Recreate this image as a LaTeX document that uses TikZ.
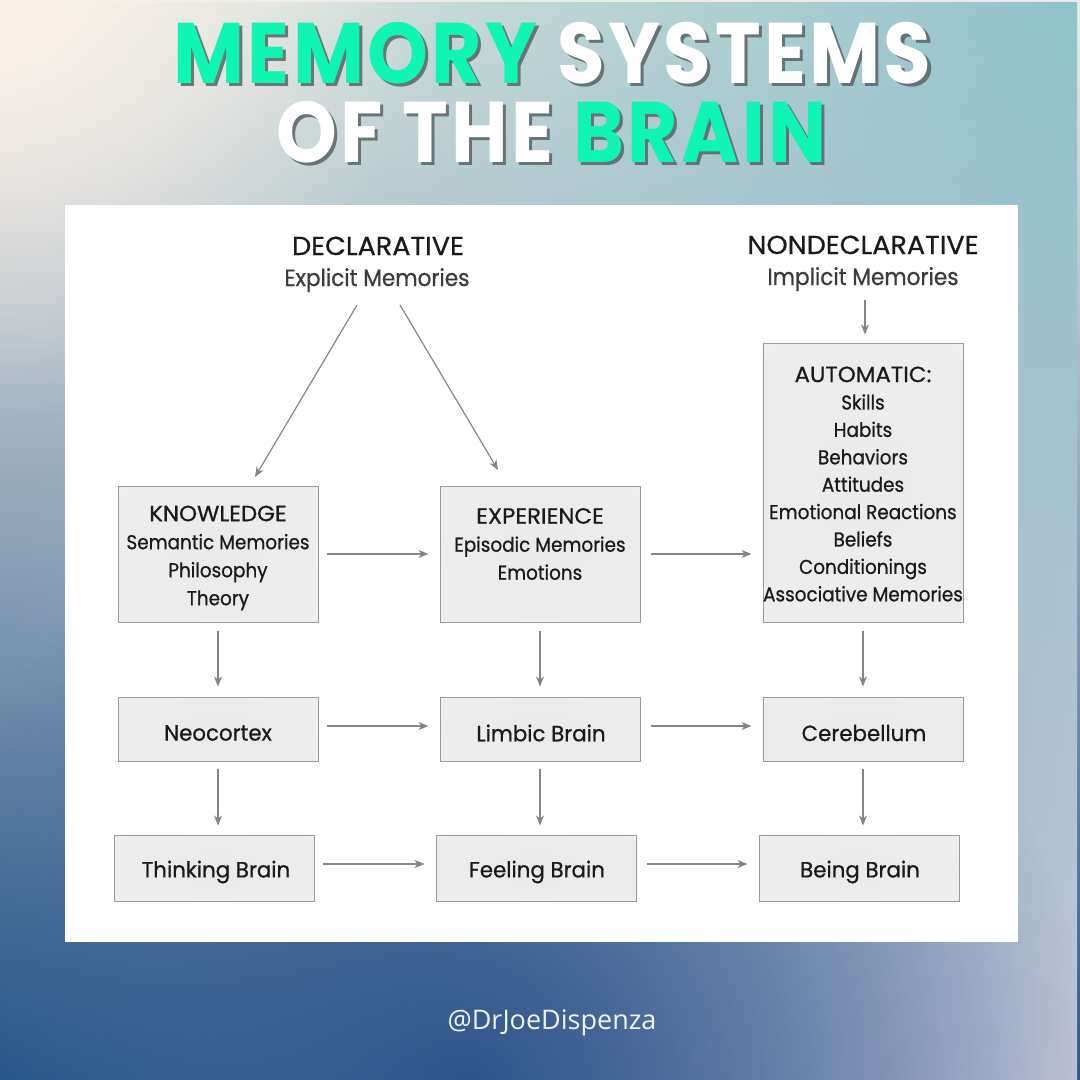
\documentclass[tikz,border=0pt]{standalone}
\usepackage{fontspec}
\usetikzlibrary{arrows.meta,fadings}
\newfontfamily\titlefont[FakeStretch=0.9, LetterSpace=4]{Poppins}
\newfontfamily\dfont[FakeStretch=0.92, FakeBold=0.7]{Poppins}
\newfontfamily\dcapfont[FakeStretch=1.04, FakeBold=0.7]{Poppins}
\newfontfamily\dbigfont[FakeStretch=0.97, FakeBold=0.7]{Poppins}
\newfontfamily\handlefont{Open Sans}
\definecolor{mint}{HTML}{0EF5B4}
\definecolor{shadowc}{HTML}{5A6466}
\definecolor{lTop}{HTML}{EFEBE4}
\definecolor{lMid}{HTML}{8CBEC3}
\definecolor{lBot}{HTML}{2A5A8C}
\definecolor{rTop}{HTML}{8FC3CA}
\definecolor{rMid}{HTML}{E8E6E3}
\definecolor{rBot}{HTML}{C2C4D8}
\definecolor{peach}{HTML}{FBF1E9}
\definecolor{deepblue}{HTML}{234C86}
\definecolor{boxline}{HTML}{999999}
\definecolor{arrc}{HTML}{858585}
\definecolor{txt}{HTML}{1A1A1A}
\definecolor{subtxt}{HTML}{3C3C3C}
\tikzfading[name=softfade, inner color=transparent!0, outer color=transparent!100]
\tikzfading[name=fadeR, left color=transparent!100, right color=transparent!0]
\pgfdeclareradialshading{boxglow}{\pgfpoint{0bp}{0bp}}{%
  color(0bp)=(black!8); color(32bp)=(black!7); color(42bp)=(black!4);
  color(48bp)=(black!1); color(52bp)=(white); color(80bp)=(white)}
\newcommand{\capline}[1]{{\dcapfont\fontsize{22}{28}\selectfont #1}}
\tikzset{
  box/.style={draw=boxline, line width=1pt, shading=boxglow, minimum width=200pt, inner sep=0pt},
  boxtext/.style={align=center, text=txt, inner sep=0pt, font=\dfont\fontsize{20}{28}\selectfont},
  bigtext/.style={text=txt, inner sep=0pt, font=\dbigfont\fontsize{22}{22}\selectfont},
  head/.style={anchor=base, text=txt, font=\dcapfont\fontsize{26}{26}\selectfont},
  subhead/.style={anchor=base, text=subtxt, font=\dfont\fontsize{23.5}{23.5}\selectfont},
  arr/.style={draw=arrc, line width=1.2pt, -{Stealth[length=10pt,width=8pt,inset=3pt]}},
  ttl/.style={anchor=base, font=\titlefont\bfseries\fontsize{86}{86}\selectfont},
}
\begin{document}
\begin{tikzpicture}[x=1pt,y=-1pt]
\useasboundingbox (0,0) rectangle (1080,1080);
% background
\begin{scope}
\clip (0,0) rectangle (1080,1080);
\shade[top color=lTop, middle color=lMid, bottom color=lBot] (0,0) rectangle (1080,1080);
\shade[top color=rTop, middle color=rMid, bottom color=rBot, path fading=fadeR] (0,0) rectangle (1080,1080);
\fill[deepblue, path fading=softfade, opacity=0.85] (470,1090) circle (620);
\fill[peach, path fading=softfade] (0,0) circle (420);
\end{scope}
% title
\node[ttl, text=shadowc, opacity=0.85] at (555.5,86.5) {MEMORY SYSTEMS};
\node[ttl] (t1) at (552.5,83) {\textcolor{mint}{MEMORY} \textcolor{white}{SYSTEMS}};
\node[ttl, text=shadowc, opacity=0.85] at (554.5,165.5) {OF THE BRAIN};
\node[ttl] (t2) at (551.5,162) {\textcolor{white}{OF THE} \textcolor{mint}{BRAIN}};
% panel
\fill[white] (65,205) rectangle (1018,942);
% headings
\node[head] (decl) at (378,255) {DECLARATIVE};
\node[subhead] (expl) at (377,286) {Explicit Memories};
\node[head] (ndecl) at (863,254) {NONDECLARATIVE};
\node[subhead] (impl) at (863,285) {Implicit Memories};
% boxes
\node[box, minimum height=136pt] (know) at (218,554) {};
\node[box, minimum height=136pt] (exp) at (540,554) {};
\node[box, minimum height=279pt] (auto) at (863,482.5) {};
\node[box, minimum height=64pt] (neo) at (218,729) {};
\node[box, minimum height=64pt] (limb) at (540,729) {};
\node[box, minimum height=64pt] (cere) at (863,729) {};
\node[box, minimum height=66pt] (think) at (214,868) {};
\node[box, minimum height=66pt] (feel) at (536,868) {};
\node[box, minimum height=66pt] (being) at (859,868) {};
% box texts
\node[boxtext] (know-t) at (218,558) {\capline{KNOWLEDGE}\\Semantic Memories\\Philosophy\\Theory};
\node[boxtext] (exp-t) at (540,544) {\capline{EXPERIENCE}\\Episodic Memories\\Emotions};
\node[boxtext, font=\dfont\fontsize{20}{27.4}\selectfont] (auto-t) at (863,484) {\capline{AUTOMATIC:}\\Skills\\Habits\\Behaviors\\Attitudes\\Emotional Reactions\\Beliefs\\Conditionings\\Associative Memories};
\node[bigtext] (neo-t) at (218,733) {Neocortex};
\node[bigtext] (limb-t) at (541,733) {Limbic Brain};
\node[bigtext] (cere-t) at (864,733) {Cerebellum};
\node[bigtext] (think-t) at (216,872) {Thinking Brain};
\node[bigtext] (feel-t) at (537,872) {Feeling Brain};
\node[bigtext] (being-t) at (860,872) {Being Brain};
% connectors
\coordinate (dl) at (357,305);
\coordinate (dr) at (400,305);
\coordinate (ndc) at (865,300);
\coordinate (klt) at (255,477);
\coordinate (ert) at (498,470);
\draw[arr] (dl) -- (klt);
\draw[arr] (dr) -- (ert);
\draw[arr, shorten >=8pt] (ndc) -- (ndc |- auto.north);
\draw[arr, shorten <=8pt, shorten >=11pt] (know.east) -- (exp.west);
\draw[arr, shorten <=10pt, shorten >=11pt] (exp.east) -- (auto.west |- exp.east);
\draw[arr, shorten <=8pt, shorten >=10pt] (know.south) -- (neo.north);
\draw[arr, shorten <=8pt, shorten >=10pt] (exp.south) -- (limb.north);
\draw[arr, shorten <=8pt, shorten >=10pt] (auto.south) -- (cere.north);
\draw[arr, shorten <=8pt, shorten >=11pt] ([yshift=3pt]neo.east) -- ([yshift=3pt]limb.west);
\draw[arr, shorten <=10pt, shorten >=11pt] ([yshift=3pt]limb.east) -- ([yshift=3pt]cere.west);
\draw[arr, shorten <=7pt, shorten >=9pt] (neo.south) -- (neo.south |- think.north);
\draw[arr, shorten <=7pt, shorten >=9pt] (limb.south) -- (limb.south |- feel.north);
\draw[arr, shorten <=7pt, shorten >=9pt] (cere.south) -- (cere.south |- being.north);
\draw[arr, shorten <=8pt, shorten >=11pt] ([yshift=4pt]think.east) -- ([yshift=4pt]feel.west);
\draw[arr, shorten <=10pt, shorten >=11pt] ([yshift=4pt]feel.east) -- ([yshift=4pt]being.west);
% handle
\node[anchor=base, text=white, opacity=0.92, font=\handlefont\fontsize{27}{27}\selectfont] (handle) at (552,1029) {@DrJoeDispenza};
\end{tikzpicture}
\end{document}
